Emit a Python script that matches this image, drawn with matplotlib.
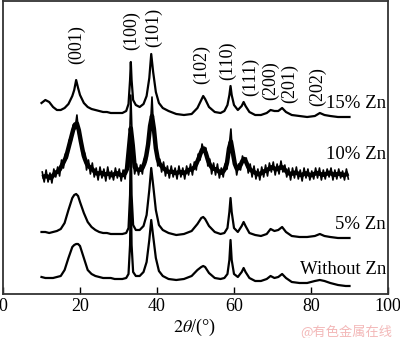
import numpy as np
import matplotlib
matplotlib.use("Agg")
import matplotlib.pyplot as plt

plt.rcParams["font.family"] = ["Liberation Serif", "DejaVu Serif"]
plt.rcParams["mathtext.fontset"] = "stix"

# 2theta grid (deg) and traces (offset intensities, a.u.)
two_theta = [10, 11, 12, 13, 14, 15, 16, 17, 18, 18.5, 19, 19.5, 20, 21, 22, 23, 24, 25, 26, 27,
             28, 29, 30, 31, 32, 32.6, 33.0, 33.2, 33.4, 33.8, 34.5, 35.5, 36.5, 37.3, 38.0, 38.5,
             39.0, 39.7, 40.5, 41.5, 43, 45, 47, 49, 50.5, 51.5, 52, 52.5, 53.5, 55, 56.5, 57.5,
             58.3, 58.8, 59.1, 59.4, 60, 61, 62, 62.5, 63, 64, 65.5, 67, 68.5, 69.5, 70.5, 71.5,
             72.5, 73.5, 75, 77, 79, 81, 82.3, 83.5, 85, 87, 89, 90]

zn_15 = [191, 194, 192, 187, 184, 184, 186, 190, 198, 204, 214, 206, 199, 191, 187, 185, 184, 183, 182, 182,
         181, 181, 181, 181, 183, 190, 214, 232, 214, 194, 189, 187, 190, 198, 216, 240,
         222, 202, 191, 186, 183, 180, 179, 180, 186, 194, 198, 195, 187, 182, 181, 183,
         189, 199, 208, 199, 189, 184, 188, 192, 188, 182, 179, 179, 181, 184, 183, 183,
         186, 182, 179, 178, 177, 178, 181, 179, 178, 177, 177, 177]

zn_5 = [62, 62, 61, 62, 63, 65, 71, 84, 96, 99, 100, 98, 92, 81, 72, 67, 64, 62, 61, 61,
        60, 60, 60, 60, 61, 66, 99, 154, 99, 69, 64, 64, 68, 79, 104, 126,
        109, 84, 69, 64, 61, 59, 60, 63, 70, 76, 77, 75, 68, 62, 60, 61,
        66, 82, 96, 82, 66, 62, 68, 72, 68, 61, 59, 58, 60, 65, 63, 64,
        67, 62, 58, 57, 57, 58, 60, 58, 57, 56, 56, 56]

zn_0 = [17, 16, 16, 16, 17, 18, 24, 36, 47, 49, 50, 50, 48, 36, 24, 20, 18, 17, 16, 16,
        16, 15, 15, 15, 16, 20, 49, 104, 49, 22, 18, 18, 22, 32, 54, 74,
        58, 36, 23, 18, 15, 14, 15, 18, 24, 27, 28, 27, 21, 16, 15, 16,
        20, 34, 54, 34, 20, 17, 22, 26, 22, 16, 13, 13, 15, 18, 16, 17,
        20, 16, 12, 11, 11, 13, 14, 13, 11, 9, 8, 8]

# the 10% Zn pattern is very noisy, read on a finer 0.5 deg grid
two_theta_10 = np.arange(10.2, 89.75, 0.5)
zn_10 = [122, 112, 124, 112, 121, 111, 125, 117, 127, 118, 134, 126, 140, 136, 154, 152, 169, 165, 179, 159,
         158, 137, 141, 124, 134, 120, 131, 117, 126, 114, 127, 116, 125, 113, 127, 115, 123, 114, 126, 116,
         125, 113, 124, 115, 129, 127, 199, 138, 120, 130, 119, 129, 120, 135, 132, 153, 161, 197, 157, 149,
         128, 135, 122, 132, 118, 128, 116, 128, 117, 126, 115, 128, 117, 126, 115, 128, 119, 130, 119, 132,
         124, 140, 134, 150, 143, 146, 128, 135, 120, 131, 119, 130, 116, 126, 117, 130, 125, 146, 165, 134,
         134, 119, 130, 124, 138, 133, 136, 121, 130, 117, 128, 115, 125, 114, 127, 117, 129, 118, 131, 122,
         132, 119, 130, 120, 133, 122, 129, 117, 126, 114, 126, 116, 127, 115, 124, 113, 126, 116, 125, 114,
         123, 115, 126, 116, 126, 114, 124, 115, 125, 117, 126, 114, 124, 115, 125, 116, 123, 114, 125, 115]

sample_labels = ["15% Zn", "10% Zn", "5% Zn", "Without Zn"]
hkl = ["(001)", "(100)", "(101)", "(102)", "(110)", "(111)", "(200)", "(201)", "(202)"]
hkl_pos = [19.2, 33.5, 39.2, 51.7, 58.4, 64.2, 69.6, 74.5, 81.8]

fig = plt.figure(figsize=(4, 3.38), dpi=100)
ax = fig.add_axes([0.0075, 0.1302, 0.9625, 0.8683])

ax.plot(two_theta, zn_0, color="black", lw=1.6)
ax.plot(two_theta, zn_5, color="black", lw=1.6)
# dense noisy band: smoothed core plus the raw trace
zn_10_smooth = np.convolve(zn_10, [0.25, 0.5, 0.25], mode="same")
ax.plot(two_theta_10[1:-1], zn_10_smooth[1:-1], color="black", lw=3.2)
ax.plot(two_theta_10, zn_10, color="black", lw=1.2)
ax.plot(two_theta, zn_15, color="black", lw=1.6)

# sample names at right
for lab, yy in zip(sample_labels, [191, 139, 69, 24]):
    ax.text(99.5, yy, lab, ha="right", va="center", fontsize=13.5)

# reflection indices
for lab, xx, yy in zip(hkl, hkl_pos, [249, 263, 267, 230, 233, 217, 213, 211, 207]):
    ax.text(xx, yy, lab, rotation=90, ha="center", va="center", fontsize=13)

ax.set_xlim(0, 100)
ax.set_ylim(0, 293.5)
ax.set_xticks([0, 20, 40, 60, 80, 100])
ax.set_yticks([])
ax.tick_params(axis="x", direction="in", length=5, width=1, labelsize=13, pad=3)
for s in ax.spines.values():
    s.set_linewidth(1.3)
    s.set_color("#333333")

fig.text(195 / 400, 1 - 327 / 338, r"$2\theta$/(°)", ha="center", va="center", fontsize=13)
fig.text(346 / 400, 1 - 332 / 338, "@有色金属在线", ha="center", va="center", fontsize=9.5,
         color="#f3b8b8", family=["Noto Sans CJK SC", "DejaVu Sans"])

fig.savefig("out.png", dpi=100)
